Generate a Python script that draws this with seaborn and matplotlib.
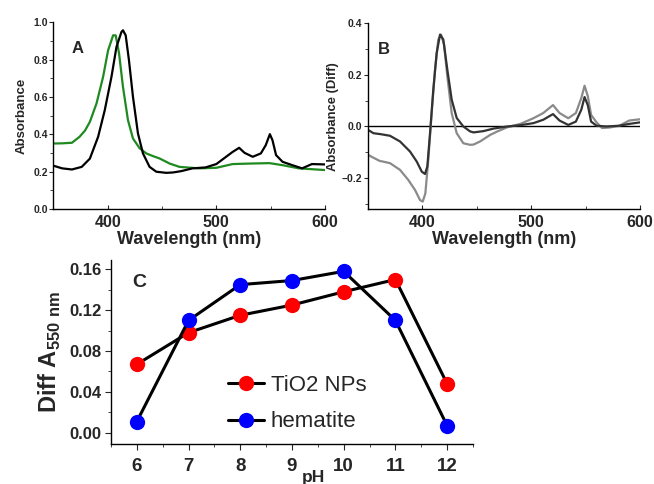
import numpy as np
import pandas as pd
import seaborn as sns
import matplotlib.pyplot as plt
from matplotlib.ticker import MultipleLocator

# panel A: absorbance spectra
wl_green = [350, 358, 367, 374, 379, 383.5, 389.6, 395.7, 400.3, 404.9, 407.3, 410.4, 414,
            418.6, 423.2, 429.4, 435.5, 441, 447.7, 456.9, 466, 484, 500, 515, 533, 549,
            561, 576, 600]
abs_green = [0.351, 0.352, 0.355, 0.387, 0.42, 0.467, 0.565, 0.708, 0.85, 0.93, 0.93,
             0.833, 0.654, 0.476, 0.378, 0.325, 0.298, 0.285, 0.271, 0.244, 0.226, 0.218,
             0.221, 0.241, 0.244, 0.246, 0.235, 0.218, 0.209]
wl_black = [350, 358, 367, 376, 383.5, 391.1, 397.2, 403.4, 408, 412.6, 414, 416.5, 419.5,
            423.2, 427.8, 432.4, 438.5, 444.7, 453.9, 460, 467.5, 478, 490, 500, 509, 515,
            521, 526, 533.5, 541, 545.5, 549.3, 551.7, 555, 561, 570, 579, 588, 600]
abs_black = [0.232, 0.218, 0.212, 0.226, 0.27, 0.387, 0.529, 0.708, 0.868, 0.948, 0.957,
             0.93, 0.797, 0.601, 0.405, 0.298, 0.226, 0.2, 0.194, 0.196, 0.203, 0.218,
             0.223, 0.241, 0.28, 0.306, 0.328, 0.301, 0.28, 0.298, 0.342, 0.401, 0.369,
             0.289, 0.253, 0.235, 0.218, 0.241, 0.239]

# panel B: difference spectra
wl_dark = [350, 355, 362, 370.2, 379.4, 388.6, 394.8, 399.4, 402.4, 404.5, 407, 410, 413.1,
           416.2, 419.2, 422.9, 426.9, 431.5, 437.6, 443.8, 447, 456, 465.5, 478, 490, 502,
           511, 520, 526, 534, 541, 546, 549, 552, 555, 560, 569, 581, 590, 600]
diff_dark = [-0.013, -0.026, -0.03, -0.036, -0.058, -0.097, -0.136, -0.175, -0.184, -0.155,
             -0.026, 0.143, 0.285, 0.356, 0.337, 0.22, 0.104, 0.033, 0.0, -0.019, -0.023,
             -0.018, -0.008, 0.0, 0.005, 0.013, 0.026, 0.048, 0.023, 0.006, 0.019, 0.065,
             0.114, 0.082, 0.019, 0.003, 0.0, 0.003, 0.01, 0.016]
wl_gray = [350, 360.5, 370.2, 379.4, 387, 393.2, 397.8, 400.3, 402.7, 405.4, 408.5, 411.6,
           414.6, 417.1, 419.9, 422.9, 426.9, 431.5, 437.6, 443.8, 447, 453, 462.5, 469,
           478, 490, 502, 511, 520, 526, 534, 541, 546, 549, 552, 555, 560, 565, 572, 581,
           590, 600]
diff_gray = [-0.11, -0.133, -0.142, -0.168, -0.207, -0.246, -0.285, -0.291, -0.259, -0.129,
             0.052, 0.22, 0.337, 0.356, 0.317, 0.194, 0.052, -0.026, -0.065, -0.071, -0.07,
             -0.058, -0.032, -0.019, -0.003, 0.01, 0.032, 0.052, 0.083, 0.052, 0.032, 0.052,
             0.11, 0.158, 0.117, 0.045, 0.016, -0.006, -0.004, 0.003, 0.023, 0.028]

# panel C: Diff A550 vs pH
ph = [6, 7, 8, 9, 10, 11, 12]
tio2 = [0.067, 0.098, 0.115, 0.125, 0.138, 0.150, 0.048]
hematite = [0.011, 0.110, 0.145, 0.149, 0.158, 0.110, 0.007]

sns.set_style("ticks")
plt.rcParams['font.family'] = ['Liberation Sans', 'DejaVu Sans']
plt.rcParams['font.weight'] = 'bold'
plt.rcParams['axes.labelweight'] = 'bold'
plt.rcParams['mathtext.fontset'] = 'custom'
plt.rcParams['mathtext.rm'] = 'Liberation Sans:bold'
plt.rcParams['mathtext.bf'] = 'Liberation Sans:bold'

fig = plt.figure(figsize=(6.54, 4.84), dpi=100)
axA = fig.add_axes([0.0818, 0.568, 0.415, 0.386])
axB = fig.add_axes([0.5627, 0.568, 0.416, 0.384])
axC = fig.add_axes([0.1697, 0.0826, 0.5535, 0.380])

for ax in (axA, axB, axC):
    sns.despine(ax=ax)
    for s in ('left', 'bottom'):
        ax.spines[s].set_linewidth(1.0)
        ax.spines[s].set_color('black')

# A
sns.lineplot(x=wl_green, y=abs_green, ax=axA, color='#1f8a1f', lw=1.6)
sns.lineplot(x=wl_black, y=abs_black, ax=axA, color='black', lw=1.6)
axA.set_xlim(350, 600)
axA.set_ylim(0, 1.0)
axA.set_ylabel('Absorbance', fontsize=9.5, labelpad=4)
axA.text(0.068, 0.834, 'A', transform=axA.transAxes, fontsize=12)

# B
axB.axhline(0, color='black', lw=1.0)
sns.lineplot(x=wl_gray, y=diff_gray, ax=axB, color='#8a8a8a', lw=1.6)
sns.lineplot(x=wl_dark, y=diff_dark, ax=axB, color='#333333', lw=1.6)
axB.set_xlim(350, 600)
axB.set_ylim(-0.32, 0.4)
axB.set_ylabel('Absorbance (Diff)', fontsize=9.4, labelpad=2)
axB.text(0.037, 0.834, 'B', transform=axB.transAxes, fontsize=12)

for ax in (axA, axB):
    ax.xaxis.set_major_locator(MultipleLocator(100))
    ax.xaxis.set_minor_locator(MultipleLocator(50))
    ax.yaxis.set_major_locator(MultipleLocator(0.2))
    ax.yaxis.set_minor_locator(MultipleLocator(0.1))
    ax.tick_params(axis='y', which='major', labelsize=7.5, length=3, width=0.8, pad=1)
    ax.tick_params(axis='y', which='minor', length=2, width=0.6)
    ax.tick_params(axis='x', which='major', labelsize=11.5, length=3, width=0.8, pad=4,
                   direction='in')
    ax.tick_params(axis='x', which='minor', length=2, width=0.6, direction='in')
    ax.set_xlabel('Wavelength (nm)', fontsize=13, labelpad=1)

# C
df = pd.DataFrame({'pH': ph * 2, 'value': tio2 + hematite,
                   'sample': ['TiO2 NPs'] * len(ph) + ['hematite'] * len(ph)})
sns.lineplot(data=df, x='pH', y='value', hue='sample',
             palette={'TiO2 NPs': '#ff0000', 'hematite': '#0000ff'},
             marker='o', markersize=11, markeredgewidth=0, lw=2.2, ax=axC, legend=False)
for ln in axC.get_lines():
    ln.set_color('black')
for ln, c in zip(axC.get_lines(), ['#ff0000', '#0000ff']):
    ln.set_markerfacecolor(c)
    ln.set_markeredgecolor(c)
axC.set_xlim(5.5, 12.5)
axC.set_ylim(-0.011, 0.169)
axC.xaxis.set_major_locator(MultipleLocator(1))
axC.xaxis.set_minor_locator(MultipleLocator(0.5))
axC.yaxis.set_major_locator(MultipleLocator(0.04))
axC.yaxis.set_minor_locator(MultipleLocator(0.02))
axC.yaxis.set_major_formatter(plt.FormatStrFormatter('%.2f'))
axC.tick_params(axis='y', which='major', labelsize=12, length=4, width=0.8, pad=3)
axC.tick_params(axis='x', which='major', labelsize=13.5, length=4, width=0.8, pad=6)
axC.tick_params(axis='both', which='minor', length=2, width=0.6)
axC.set_xlabel('pH', fontsize=12.5)
axC.xaxis.set_label_coords(0.56, -0.14)
axC.set_ylabel(r'Diff A$_\mathregular{550\ nm}$', fontsize=17, labelpad=4)
axC.text(0.058, 0.853, 'C', transform=axC.transAxes, fontsize=14)
handles = axC.get_lines()[:2]
axC.legend(handles, ['TiO2 NPs', 'hematite'], loc='lower left', bbox_to_anchor=(0.3, 0.015),
           frameon=False, prop={'size': 16, 'weight': 'normal'}, handlelength=1.6,
           handletextpad=0.3, labelspacing=0.7, borderaxespad=0)

fig.savefig('out.png', dpi=100)
